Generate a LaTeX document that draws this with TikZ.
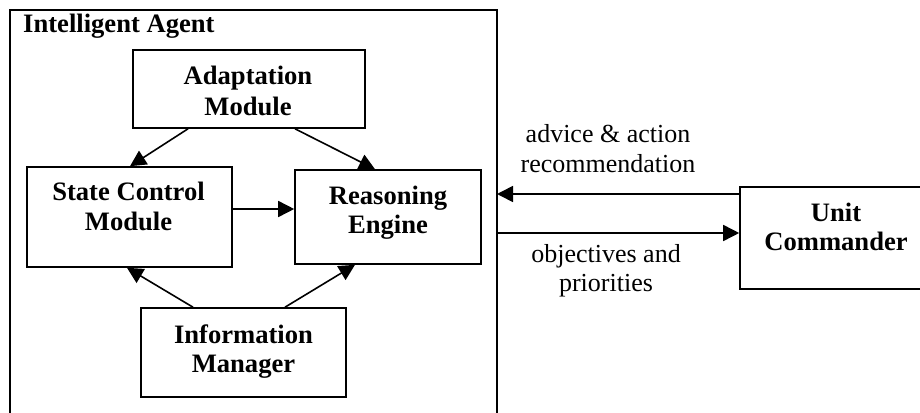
\documentclass[tikz,border=0pt]{standalone}
\usepackage{fontspec}
\setmainfont{Liberation Serif}
\usetikzlibrary{arrows.meta}
\tikzset{
  box/.style={draw, line width=1.6pt, rectangle, inner sep=0pt},
  lbl/.style={anchor=base, inner sep=0pt, font=\fontsize{26.6}{30}\selectfont\bfseries},
  txt/.style={anchor=base, inner sep=0pt, font=\fontsize{26}{30}\selectfont},
  arr/.style={line width=1.6pt, -{Triangle[length=16pt,width=16pt]}}
}
\begin{document}
\begin{tikzpicture}[x=1pt,y=-1pt]
\clip (0,0) rectangle (920,412);
\useasboundingbox (0,0) rectangle (920,412);
% outer agent box (bottom cut off)
\node[box, minimum width=487pt, minimum height=440pt] (agent) at (253.5,230) {};
\node[lbl, anchor=base west] (agenttitle) at (23,33) {Intelligent Agent};
% modules
\node[box, minimum width=232pt, minimum height=78pt] (adapt) at (249,89) {};
\node[lbl] (adapt1) at (248,84) {Adaptation};
\node[lbl] (adapt2) at (248,115) {Module};
\node[box, minimum width=205pt, minimum height=100pt] (state) at (129.5,217) {};
\node[lbl] (state1) at (128.5,200) {State Control};
\node[lbl] (state2) at (128.5,230) {Module};
\node[box, minimum width=186pt, minimum height=94pt] (reason) at (388,217) {};
\node[lbl] (reason1) at (388,204) {Reasoning};
\node[lbl] (reason2) at (388,233) {Engine};
\node[box, minimum width=205pt, minimum height=89pt] (info) at (243.5,352.5) {};
\node[lbl] (info1) at (243.5,343) {Information};
\node[lbl] (info2) at (243.5,372) {Manager};
\node[box, minimum width=192pt, minimum height=102pt] (unit) at (836,238) {};
\node[lbl] (unit1) at (836,221) {Unit};
\node[lbl] (unit2) at (836,250) {Commander};
% connectors inside agent
\draw[arr] ([xshift=-61pt]adapt.south) -- ([xshift=0.5pt]state.north);
\draw[arr] ([xshift=46pt]adapt.south) -- ([xshift=-13pt]reason.north);
\draw[arr] ([yshift=8pt]state.east) -- ([yshift=8pt]reason.west);
\draw[arr] ([xshift=-50.5pt]info.north) -- ([xshift=-2.5pt]state.south);
\draw[arr] ([xshift=41.5pt]info.north) -- ([xshift=-33pt]reason.south);
% external connectors
\coordinate (inA) at (497,194);
\coordinate (outA) at (497,233);
\draw[arr] (unit.west |- inA) -- (inA);
\draw[arr] (outA) -- (unit.west |- outA);
\node[txt] (adv1) at (608,142) {advice \& action};
\node[txt] (adv2) at (608,172) {recommendation};
\node[txt] (obj1) at (606,262) {objectives and};
\node[txt] (obj2) at (606,291) {priorities};
\end{tikzpicture}
\end{document}
